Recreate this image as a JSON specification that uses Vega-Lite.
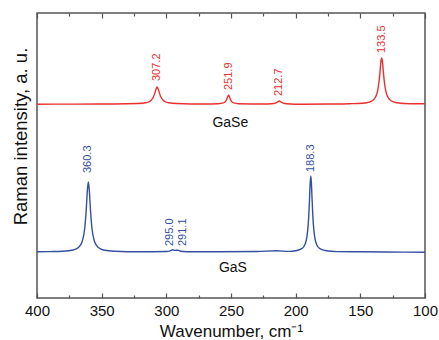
{
  "$schema": "https://vega.github.io/schema/vega-lite/v6.json",
  "width": 388,
  "height": 285,
  "autosize": "none",
  "padding": {"left": 37, "top": 13, "right": 14, "bottom": 42},
  "background": "white",
  "config": {
    "view": {"stroke": "#555555", "strokeWidth": 1.5},
    "font": "Liberation Sans"
  },
  "datasets": {
    "spectra": [
      {"w": 400, "i": 46.2, "s": "GaS"}, {"w": 390, "i": 46.4, "s": "GaS"}, {"w": 380, "i": 46.7, "s": "GaS"},
      {"w": 372, "i": 48, "s": "GaS"}, {"w": 368, "i": 50.4, "s": "GaS"}, {"w": 365, "i": 56.8, "s": "GaS"},
      {"w": 363, "i": 70.8, "s": "GaS"}, {"w": 362, "i": 86.7, "s": "GaS"}, {"w": 361, "i": 108.4, "s": "GaS"},
      {"w": 360.3, "i": 116, "s": "GaS"}, {"w": 359.6, "i": 108.4, "s": "GaS"}, {"w": 358.6, "i": 86.7, "s": "GaS"},
      {"w": 357.6, "i": 70.8, "s": "GaS"}, {"w": 355.6, "i": 56.8, "s": "GaS"}, {"w": 352.6, "i": 50.4, "s": "GaS"},
      {"w": 348.6, "i": 48, "s": "GaS"}, {"w": 340, "i": 46.7, "s": "GaS"}, {"w": 320, "i": 46.2, "s": "GaS"},
      {"w": 300, "i": 46.5, "s": "GaS"}, {"w": 297, "i": 47.2, "s": "GaS"}, {"w": 295, "i": 48.2, "s": "GaS"},
      {"w": 293.5, "i": 47.6, "s": "GaS"}, {"w": 291.1, "i": 47.8, "s": "GaS"}, {"w": 289, "i": 46.8, "s": "GaS"},
      {"w": 280, "i": 46.3, "s": "GaS"}, {"w": 260, "i": 46.3, "s": "GaS"}, {"w": 230, "i": 46.5, "s": "GaS"},
      {"w": 215, "i": 47.2, "s": "GaS"}, {"w": 205, "i": 46.6, "s": "GaS"}, {"w": 200, "i": 47.2, "s": "GaS"},
      {"w": 195.3, "i": 49.3, "s": "GaS"}, {"w": 192.8, "i": 53.6, "s": "GaS"}, {"w": 191.3, "i": 61.2, "s": "GaS"},
      {"w": 190.3, "i": 73.4, "s": "GaS"}, {"w": 189.8, "i": 84, "s": "GaS"}, {"w": 189.3, "i": 98.6, "s": "GaS"},
      {"w": 188.8, "i": 114.4, "s": "GaS"}, {"w": 188.3, "i": 122, "s": "GaS"}, {"w": 187.8, "i": 114.4, "s": "GaS"},
      {"w": 187.3, "i": 98.6, "s": "GaS"}, {"w": 186.8, "i": 84, "s": "GaS"}, {"w": 186.3, "i": 73.4, "s": "GaS"},
      {"w": 185.3, "i": 61.2, "s": "GaS"}, {"w": 183.8, "i": 53.6, "s": "GaS"}, {"w": 181.3, "i": 49.3, "s": "GaS"},
      {"w": 176.3, "i": 47.2, "s": "GaS"}, {"w": 168, "i": 46.4, "s": "GaS"}, {"w": 150, "i": 46.2, "s": "GaS"},
      {"w": 130, "i": 46, "s": "GaS"}, {"w": 100, "i": 45.8, "s": "GaS"},

      {"w": 400, "i": 193.8, "s": "GaSe"}, {"w": 370, "i": 193.9, "s": "GaSe"}, {"w": 340, "i": 194, "s": "GaSe"},
      {"w": 322, "i": 194.5, "s": "GaSe"}, {"w": 316, "i": 195.2, "s": "GaSe"}, {"w": 313, "i": 196.5, "s": "GaSe"},
      {"w": 311, "i": 198.8, "s": "GaSe"}, {"w": 310, "i": 201, "s": "GaSe"}, {"w": 309, "i": 204.4, "s": "GaSe"},
      {"w": 308, "i": 208.7, "s": "GaSe"}, {"w": 307.2, "i": 211, "s": "GaSe"}, {"w": 306.2, "i": 208.7, "s": "GaSe"},
      {"w": 305.2, "i": 204.4, "s": "GaSe"}, {"w": 304.2, "i": 201, "s": "GaSe"}, {"w": 303.2, "i": 198.8, "s": "GaSe"},
      {"w": 301.2, "i": 196.5, "s": "GaSe"}, {"w": 298.2, "i": 195.2, "s": "GaSe"}, {"w": 292, "i": 194.5, "s": "GaSe"},
      {"w": 270, "i": 194, "s": "GaSe"}, {"w": 260, "i": 194.3, "s": "GaSe"}, {"w": 255.9, "i": 195.1, "s": "GaSe"},
      {"w": 254.4, "i": 196.4, "s": "GaSe"}, {"w": 253.4, "i": 198.5, "s": "GaSe"}, {"w": 252.6, "i": 201.2, "s": "GaSe"},
      {"w": 251.9, "i": 203, "s": "GaSe"}, {"w": 251.2, "i": 201.2, "s": "GaSe"}, {"w": 250.4, "i": 198.5, "s": "GaSe"},
      {"w": 249.4, "i": 196.4, "s": "GaSe"}, {"w": 247.9, "i": 195.1, "s": "GaSe"}, {"w": 244, "i": 194.3, "s": "GaSe"},
      {"w": 225, "i": 194, "s": "GaSe"}, {"w": 218.7, "i": 194.3, "s": "GaSe"}, {"w": 215.7, "i": 194.9, "s": "GaSe"},
      {"w": 214.2, "i": 195.9, "s": "GaSe"}, {"w": 212.7, "i": 197, "s": "GaSe"}, {"w": 211.2, "i": 195.9, "s": "GaSe"},
      {"w": 209.7, "i": 194.9, "s": "GaSe"}, {"w": 206.7, "i": 194.3, "s": "GaSe"}, {"w": 195, "i": 193.8, "s": "GaSe"},
      {"w": 175, "i": 194, "s": "GaSe"}, {"w": 158.5, "i": 194.3, "s": "GaSe"}, {"w": 148.5, "i": 194.8, "s": "GaSe"},
      {"w": 142.5, "i": 196.2, "s": "GaSe"}, {"w": 139.5, "i": 198.6, "s": "GaSe"}, {"w": 137.5, "i": 203.2, "s": "GaSe"},
      {"w": 136.5, "i": 208.2, "s": "GaSe"}, {"w": 135.5, "i": 217, "s": "GaSe"}, {"w": 135, "i": 223.4, "s": "GaSe"},
      {"w": 134.5, "i": 230.8, "s": "GaSe"}, {"w": 134, "i": 237.3, "s": "GaSe"}, {"w": 133.5, "i": 240, "s": "GaSe"},
      {"w": 133, "i": 237.3, "s": "GaSe"}, {"w": 132.5, "i": 230.8, "s": "GaSe"}, {"w": 132, "i": 223.4, "s": "GaSe"},
      {"w": 131.5, "i": 217, "s": "GaSe"}, {"w": 130.5, "i": 208.2, "s": "GaSe"}, {"w": 129.5, "i": 203.2, "s": "GaSe"},
      {"w": 127.5, "i": 198.6, "s": "GaSe"}, {"w": 124.5, "i": 196.2, "s": "GaSe"}, {"w": 118.5, "i": 194.8, "s": "GaSe"},
      {"w": 108.5, "i": 194.3, "s": "GaSe"}, {"w": 100, "i": 194.2, "s": "GaSe"}
    ],
    "peaks": [
      {"w": 307.2, "i": 217, "t": "307.2", "s": "GaSe"},
      {"w": 251.9, "i": 208, "t": "251.9", "s": "GaSe"},
      {"w": 212.7, "i": 202, "t": "212.7", "s": "GaSe"},
      {"w": 133.5, "i": 245, "t": "133.5", "s": "GaSe"},
      {"w": 360.3, "i": 125, "t": "360.3", "s": "GaS"},
      {"w": 297, "i": 52, "t": "295.0", "s": "GaS"},
      {"w": 287.5, "i": 52, "t": "291.1", "s": "GaS"},
      {"w": 188.3, "i": 126, "t": "188.3", "s": "GaS"}
    ],
    "names": [
      {"w": 250.5, "i": 175, "t": "GaSe"},
      {"w": 248.5, "i": 30, "t": "GaS"}
    ]
  },
  "resolve": {"axis": {"x": "independent", "y": "independent"}},
  "layer": [
    {
      "data": {"name": "spectra"},
      "mark": {"type": "line", "strokeWidth": 1.4, "interpolate": "monotone"},
      "encoding": {
        "x": {
          "field": "w", "type": "quantitative",
          "scale": {"domain": [400, 100], "nice": false},
          "axis": {
            "orient": "bottom", "values": [400, 375, 350, 325, 300, 275, 250, 225, 200, 175, 150, 125, 100],
            "labelExpr": "datum.value % 50 === 0 ? datum.label : ''",
            "tickSize": {"condition": {"test": "datum.value % 50 === 0", "value": -5}, "value": -3},
            "tickColor": "#555555", "tickWidth": 1.2, "domain": false, "grid": false,
            "labelFontSize": 15, "labelColor": "#111111", "labelPadding": 10, "labelFlush": false,
            "title": "Wavenumber, cm⁻¹", "titleFontSize": 17, "titleFontWeight": "normal",
            "titleColor": "#111111", "titlePadding": 5
          }
        },
        "y": {
          "field": "i", "type": "quantitative",
          "scale": {"domain": [0, 285], "nice": false},
          "axis": {
            "labels": false, "ticks": false, "domain": false, "grid": false,
            "title": "Raman intensity, a. u.", "titleFontSize": 18.5, "titleFontWeight": "normal",
            "titleColor": "#111111", "titlePadding": 7, "titleY": 123
          }
        },
        "color": {
          "field": "s", "type": "nominal",
          "scale": {"domain": ["GaS", "GaSe"], "range": ["#34509f", "#e8312f"]},
          "legend": null
        }
      }
    },
    {
      "data": {"name": "peaks"},
      "mark": {"type": "text", "angle": 270, "align": "left", "baseline": "middle", "fontSize": 11},
      "encoding": {
        "x": {
          "field": "w", "type": "quantitative",
          "scale": {"domain": [400, 100], "nice": false},
          "axis": {
            "orient": "top", "values": [400, 375, 350, 325, 300, 275, 250, 225, 200, 175, 150, 125, 100],
            "labels": false, "title": null, "domain": false, "grid": false,
            "tickSize": {"condition": {"test": "datum.value % 50 === 0", "value": -5}, "value": -3},
            "tickColor": "#555555", "tickWidth": 1.2
          }
        },
        "y": {"field": "i", "type": "quantitative", "scale": {"domain": [0, 285], "nice": false}, "axis": null},
        "text": {"field": "t"},
        "color": {
          "field": "s", "type": "nominal",
          "scale": {"domain": ["GaS", "GaSe"], "range": ["#34509f", "#e8312f"]},
          "legend": null
        }
      }
    },
    {
      "data": {"name": "names"},
      "mark": {"type": "text", "align": "center", "baseline": "middle", "fontSize": 14, "color": "#111111"},
      "encoding": {
        "x": {"field": "w", "type": "quantitative", "scale": {"domain": [400, 100], "nice": false}, "axis": null},
        "y": {"field": "i", "type": "quantitative", "scale": {"domain": [0, 285], "nice": false}, "axis": null},
        "text": {"field": "t"}
      }
    }
  ]
}
